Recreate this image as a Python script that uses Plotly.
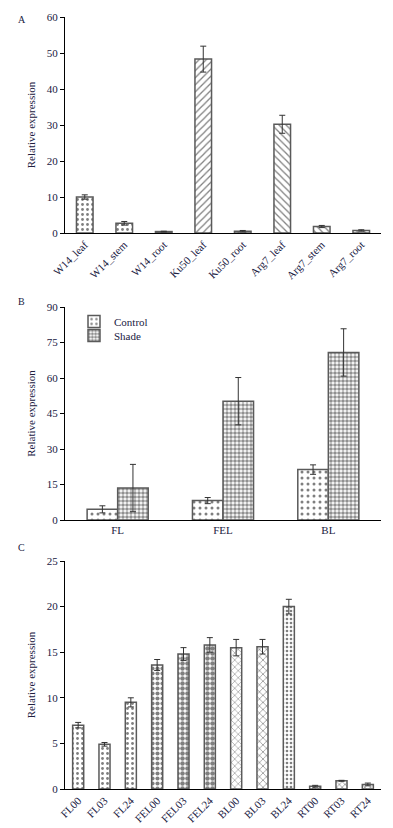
import plotly.graph_objects as go

# ---- Data ----
a_cats = ["W14_leaf", "W14_stem", "W14_root", "Ku50_leaf", "Ku50_root", "Arg7_leaf", "Arg7_stem", "Arg7_root"]
a_vals = [10.0, 2.7, 0.4, 48.3, 0.5, 30.2, 1.8, 0.7]
a_errs = [0.6, 0.5, 0.1, 3.6, 0.2, 2.5, 0.3, 0.2]
a_shapes = [".", ".", ".", "/", "/", "\\", "\\", "\\"]

b_cats = ["FL", "FEL", "BL"]
b_control = [4.5, 8.2, 21.3]
b_control_err = [1.5, 1.3, 2.0]
b_shade = [13.5, 50.2, 70.8]
b_shade_err = [10.0, 10.0, 10.0]

c_cats = ["FL00", "FL03", "FL24", "FEL00", "FEL03", "FEL24", "BL00", "BL03", "BL24", "RT00", "RT03", "RT24"]
c_vals = [7.0, 4.9, 9.5, 13.6, 14.8, 15.8, 15.5, 15.6, 20.0, 0.3, 0.9, 0.5]
c_errs = [0.3, 0.2, 0.5, 0.6, 0.7, 0.8, 0.9, 0.8, 0.8, 0.1, 0.05, 0.15]
c_shapes = [".", ".", ".", ".", ".", ".", "x", "x", ".", "x", "x", "x"]
c_sizes = [5, 5, 5, 5, 5, 5, 5, 5, 4, 4, 4, 4]
c_solid = [0.25, 0.25, 0.25, 0.55, 0.65, 0.65, 0.2, 0.25, 0.35, 0.4, 0.3, 0.3]

TXT = "#20203f"
FONT = "Liberation Serif"
EDGE = "#5a5a5a"
ERR = dict(type="data", thickness=1, width=3, color="#333333")

fig = go.Figure()

# Panel A
fig.add_trace(go.Bar(
    x=a_cats, y=a_vals, xaxis="x", yaxis="y", showlegend=False,
    error_y=dict(array=a_errs, **ERR),
    marker=dict(color="white", line=dict(color=EDGE, width=1.5),
                pattern=dict(shape=a_shapes, fgcolor="black", bgcolor="white",
                             size=5, solidity=0.25)),
))

# Panel B
fig.add_trace(go.Bar(
    x=b_cats, y=b_control, name="Control", xaxis="x2", yaxis="y2", legend="legend",
    error_y=dict(array=b_control_err, **ERR), width=0.29, offset=-0.29,
    marker=dict(color="white", line=dict(color=EDGE, width=1.5),
                pattern=dict(shape=".", fgcolor="black", bgcolor="white", size=6, solidity=0.2)),
))
fig.add_trace(go.Bar(
    x=b_cats, y=b_shade, name="Shade", xaxis="x2", yaxis="y2", legend="legend2",
    error_y=dict(array=b_shade_err, **ERR), width=0.29, offset=0,
    marker=dict(color="white", line=dict(color=EDGE, width=1.5),
                pattern=dict(shape=".", fgcolor="#222222", bgcolor="white", size=4, solidity=0.65)),
))

# Panel C
fig.add_trace(go.Bar(
    x=c_cats, y=c_vals, xaxis="x3", yaxis="y3", showlegend=False,
    error_y=dict(array=c_errs, **ERR),
    marker=dict(color="white", line=dict(color=EDGE, width=1.5),
                pattern=dict(shape=c_shapes, fgcolor="black", bgcolor="white",
                             size=c_sizes, solidity=c_solid)),
))

XD = [65 / 393, 381 / 393]


def ydom(top, bot):
    return [1 - bot / 828, 1 - top / 828]


xcommon = dict(showline=True, linecolor="black", linewidth=1, ticks="", showgrid=False,
               zeroline=False, automargin=False,
               tickfont=dict(family=FONT, size=11, color=TXT))
ycommon = dict(showline=True, linecolor="black", linewidth=1, ticks="outside", ticklen=4,
               tickcolor="black", showgrid=False, zeroline=False, automargin=False,
               tickfont=dict(family=FONT, size=11, color=TXT),
               title=dict(text="Relative expression", font=dict(family=FONT, size=11, color=TXT),
                          standoff=8))

legfont = dict(family=FONT, size=11, color=TXT)

fig.update_layout(
    width=393, height=828,
    margin=dict(l=0, r=0, t=0, b=0),
    paper_bgcolor="white", plot_bgcolor="white",
    font=dict(family=FONT, color=TXT),
    bargap=0.58, barmode="group", bargroupgap=0,
    xaxis=dict(domain=XD, anchor="y", tickangle=-45, **xcommon),
    yaxis=dict(domain=ydom(17, 233), anchor="x", range=[0, 60], dtick=10, **ycommon),
    xaxis2=dict(domain=XD, anchor="y2", tickangle=0, **xcommon),
    yaxis2=dict(domain=ydom(307, 520), anchor="x2", range=[0, 90], dtick=15, **ycommon),
    xaxis3=dict(domain=XD, anchor="y3", tickangle=-45, **xcommon),
    yaxis3=dict(domain=ydom(561, 789), anchor="x3", range=[0, 25], dtick=5, **ycommon),
    legend=dict(x=74 / 393, y=1 - 307 / 828, xanchor="left", yanchor="top",
                bgcolor="rgba(0,0,0,0)", font=legfont, itemwidth=30),
    legend2=dict(x=74 / 393, y=1 - 321 / 828, xanchor="left", yanchor="top",
                 bgcolor="rgba(0,0,0,0)", font=legfont, itemwidth=30),
    annotations=[
        dict(text="A", x=16 / 393, y=1 - 12 / 828, xref="paper", yref="paper", showarrow=False,
             font=dict(family=FONT, size=10, color=TXT)),
        dict(text="B", x=16 / 393, y=1 - 301 / 828, xref="paper", yref="paper", showarrow=False,
             font=dict(family=FONT, size=10, color=TXT)),
        dict(text="C", x=16 / 393, y=1 - 555 / 828, xref="paper", yref="paper", showarrow=False,
             font=dict(family=FONT, size=10, color=TXT)),
    ],
)

fig.write_html("out.html", config={"displayModeBar": False},
               post_script="document.body.style.margin='0';document.body.style.overflow='hidden';")
